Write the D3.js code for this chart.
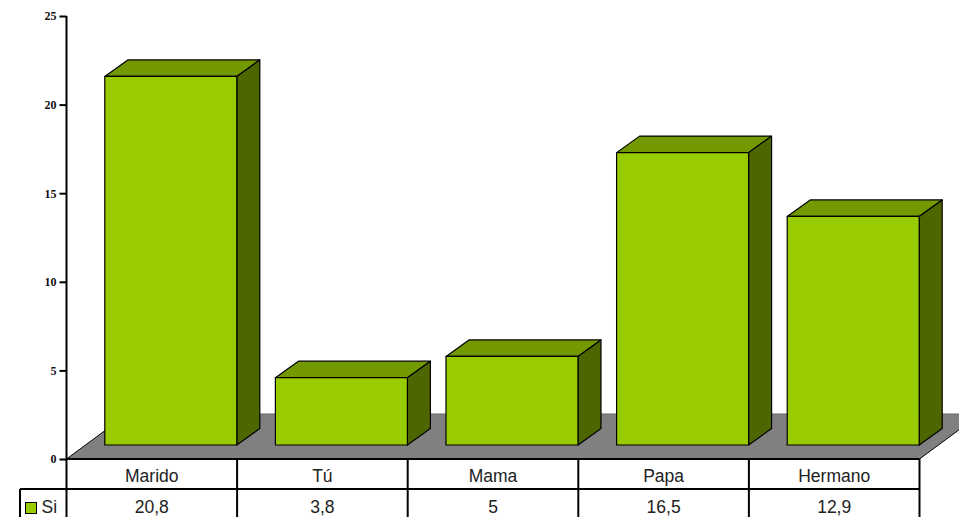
<!DOCTYPE html>
<html lang="es">
<head>
  <meta charset="UTF-8">
  <script src="https://d3js.org/d3.v7.min.js"></script>
  <title>Si</title>
  <style>
    html, body { margin: 0; padding: 0; overflow: hidden; background: #fff; }
    svg { display: block; }
    .tick text { font-family: "Liberation Serif", serif; font-weight: bold; font-size: 12px; fill: #111; }
    .cell { font-family: "Liberation Sans", sans-serif; font-size: 17.5px; fill: #222; text-anchor: middle; }
  </style>
</head>
<body>
  <div id="wrapper"></div>
  <script>
    const categories = ["Marido", "Tú", "Mama", "Papa", "Hermano"]
    const seriesName = "Si"
    const values = [20.8, 3.8, 5, 16.5, 12.9]
    const valueLabels = ["20,8", "3,8", "5", "16,5", "12,9"]
    const yTicks = [0, 5, 10, 15, 20, 25]

    const dimensions = {
      width: 959,
      height: 517,
      left: 66.5,
      right: 919.5,
      top: 16,
      zero: 459,
      rowHeight: 30,
      legendLeft: 20,
      floorDx: 61,
      floorDy: 45,
      barLift: 14,
      barDx: 23,
      barDy: 16.5
    }

    const svg = d3.select("#wrapper")
      .append("svg")
      .attr("width", dimensions.width)
      .attr("height", dimensions.height)

    const xScale = d3.scaleBand()
      .domain(categories)
      .range([dimensions.left, dimensions.right])

    const yScale = d3.scaleLinear()
      .domain([0, 25])
      .range([dimensions.zero, dimensions.top])

    const barOffset = xScale.bandwidth() * 0.2245
    const barWidth = xScale.bandwidth() * 0.7737

    /* floor */
    const { left: plotLeft, right: plotRight, zero, floorDx, floorDy, barDx, barDy, barLift } = dimensions
    svg.append("polygon")
      .attr("points", [[plotLeft, zero], [plotRight, zero], [plotRight + floorDx, zero - floorDy], [plotLeft + floorDx, zero - floorDy]].join(" "))
      .attr("fill", "#808080")
    svg.append("path")
      .attr("d", `M${plotLeft + floorDx},${zero - floorDy}H${plotRight + floorDx}`)
      .attr("fill", "none")
      .attr("stroke", "#666")
    svg.append("path")
      .attr("d", `M${plotLeft},${zero}L${plotLeft + floorDx},${zero - floorDy}M${plotRight},${zero}L${plotRight + floorDx},${zero - floorDy}`)
      .attr("fill", "none")
      .attr("stroke", "#000")

    /* bars */
    const bars = svg.append("g")
      .selectAll("g")
      .data(categories.map((c, i) => ({ category: c, value: values[i] })))
      .enter()
      .append("g")
      .attr("stroke", "#000")
      .attr("stroke-width", 1.2)
      .attr("stroke-linejoin", "round")

    const barX0 = d => xScale(d.category) + barOffset
    const barX1 = d => barX0(d) + barWidth
    const barTop = d => yScale(d.value) - barLift
    const barBottom = yScale(0) - barLift

    bars.append("path")
      .attr("fill", "#739900")
      .attr("d", d => `M${barX0(d)},${barTop(d)}l${barDx},${-barDy}H${barX1(d) + barDx}L${barX1(d)},${barTop(d)}Z`)
    bars.append("path")
      .attr("fill", "#4d6600")
      .attr("d", d => `M${barX1(d)},${barTop(d)}l${barDx},${-barDy}V${barBottom - barDy}L${barX1(d)},${barBottom}Z`)
    bars.append("rect")
      .attr("fill", "#99cc00")
      .attr("x", barX0)
      .attr("y", barTop)
      .attr("width", barWidth)
      .attr("height", d => barBottom - barTop(d))

    /* y axis */
    const yAxis = svg.append("g")
      .attr("transform", `translate(${plotLeft},0)`)
      .call(d3.axisLeft(yScale).tickValues(yTicks).tickSize(7).tickPadding(3))
    yAxis.selectAll("line").attr("stroke", "#000").attr("stroke-width", 2)
    yAxis.select(".domain").attr("stroke", "#000").attr("stroke-width", 2)
      .attr("d", `M0,${dimensions.top}V${zero}`)

    /* data table */
    const rowY = zero + dimensions.rowHeight
    const table = svg.append("g")
      .attr("stroke", "#000")
      .attr("stroke-width", 2)
      .attr("fill", "none")
    table.append("path").attr("d", `M${plotLeft},${zero}H${plotRight}`)
    table.append("path").attr("d", `M${dimensions.legendLeft},${rowY}H${plotRight}`)
    table.append("path").attr("d", `M${dimensions.legendLeft},${rowY}V${dimensions.height + 4}`)
    table.append("path").attr("d", `M${plotLeft},${zero}V${dimensions.height + 4}`)
    table.selectAll("line.col")
      .data(categories)
      .enter()
      .append("line")
      .attr("class", "col")
      .attr("x1", d => xScale(d) + xScale.bandwidth())
      .attr("x2", d => xScale(d) + xScale.bandwidth())
      .attr("y1", zero)
      .attr("y2", dimensions.height + 4)

    svg.selectAll("text.cat")
      .data(categories)
      .enter()
      .append("text")
      .attr("class", "cell cat")
      .attr("x", d => xScale(d) + xScale.bandwidth() / 2)
      .attr("y", zero + 23)
      .text(d => d)

    svg.selectAll("text.val")
      .data(valueLabels)
      .enter()
      .append("text")
      .attr("class", "cell val")
      .attr("x", (d, i) => xScale(categories[i]) + xScale.bandwidth() / 2)
      .attr("y", rowY + 24)
      .text(d => d)

    /* legend */
    svg.append("rect")
      .attr("x", 25.5)
      .attr("y", rowY + 13.5)
      .attr("width", 11)
      .attr("height", 11)
      .attr("fill", "#99cc00")
      .attr("stroke", "#000")
    svg.append("text")
      .attr("class", "cell")
      .style("text-anchor", "start")
      .attr("x", 41.5)
      .attr("y", rowY + 24)
      .text(seriesName)
  </script>
</body>
</html>
